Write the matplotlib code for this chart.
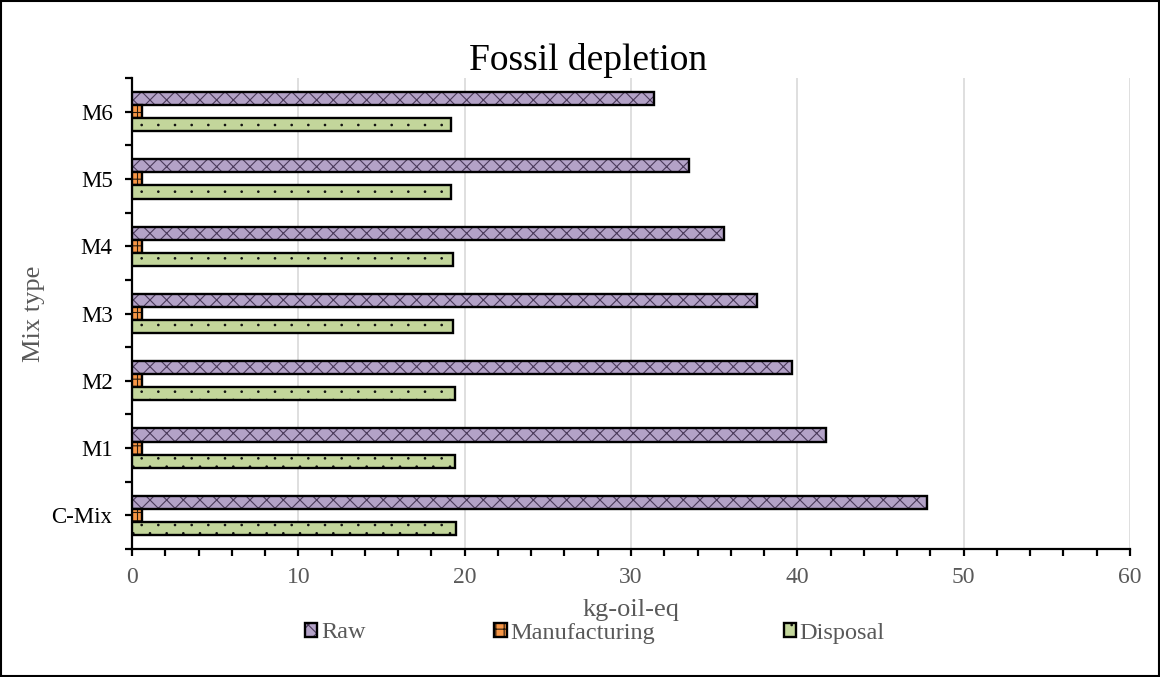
import matplotlib
matplotlib.use("Agg")
import matplotlib.pyplot as plt
import matplotlib.hatch as mhatch
from matplotlib.path import Path
import numpy as np
from matplotlib.patches import Rectangle

plt.rcParams['font.family'] = ['Liberation Serif', 'DejaVu Serif']
plt.rcParams['hatch.linewidth'] = 0.8

categories = ["C-Mix", "M1", "M2", "M3", "M4", "M5", "M6"]
raw = [47.8, 41.7, 39.7, 37.6, 35.6, 33.5, 31.4]
manufacturing = [0.6, 0.6, 0.6, 0.6, 0.6, 0.6, 0.6]
disposal = [19.5, 19.4, 19.4, 19.3, 19.3, 19.15, 19.15]


class StaggeredDots(mhatch.HatchPatternBase):
    """Small dots in staggered rows: wide spacing along a row, tight between rows."""
    size = 0.09

    def __init__(self, hatch, density):
        self.num_rows = hatch.count('.') * density * 2
        circle = Path.unit_circle()
        self.shape_vertices = circle.vertices
        self.shape_codes = circle.codes
        if self.num_rows == 0:
            self.num_vertices = 0
        else:
            ncols = self.num_rows // 2
            n_even = (self.num_rows // 2 + 1) * (ncols + 1)
            n_odd = (self.num_rows // 2) * ncols
            self.num_vertices = (n_even + n_odd) * len(self.shape_vertices)

    def set_vertices_and_codes(self, vertices, codes):
        offset = 1.0 / self.num_rows
        ncols = self.num_rows // 2
        shape = self.shape_vertices * offset * self.size
        parts_v, parts_c = [], []
        for row in range(self.num_rows + 1):
            if row % 2 == 0:
                cols = np.linspace(0, 1, ncols + 1)
            else:
                cols = np.linspace(0.5 / ncols, 1 - 0.5 / ncols, ncols)
            for c in cols:
                parts_v.append(shape + [c, row * offset])
                parts_c.append(self.shape_codes)
        np.concatenate(parts_v, out=vertices)
        np.concatenate(parts_c, out=codes)


mhatch._hatch_types[mhatch._hatch_types.index(mhatch.SmallFilledCircles)] = StaggeredDots

series = [
    ("Raw", raw, "#b3a2c7", "xx", "#4a3a5a"),
    ("Manufacturing", manufacturing, "#f79646", "++", "#2a1a0a"),
    ("Disposal", disposal, "#c3d69b", ".", "#111111"),
]

fig = plt.figure(figsize=(11.6, 6.77), dpi=100)
ax = fig.add_axes([132 / 1160, 1 - 549 / 677, (1130 - 132) / 1160, (549 - 78) / 677])

y = np.arange(len(categories))
h = 0.195
offsets = [h, 0.0, -h]
for (name, vals, color, hatch, hcol), off in zip(series, offsets):
    bars = ax.barh(y + off, vals, height=h, color=color, edgecolor="black",
                   linewidth=1.7, label=name, zorder=3)
    for b in bars:
        b.set_hatch(hatch)
        b._hatch_color = matplotlib.colors.to_rgba(hcol)

ax.set_xlim(0, 60)
ax.set_ylim(-0.5, len(categories) - 0.5)
ax.set_xticks(np.arange(0, 61, 10))
ax.set_xticks(np.arange(0, 61, 2), minor=True)
ax.set_yticks(np.arange(-0.5, len(categories), 1.0))
ax.set_yticklabels([])
ax.set_yticks(y, minor=True)
ax.set_yticklabels(categories, minor=True)
ax.xaxis.grid(True, color="#d9d9d9", linewidth=1.2, zorder=0)
ax.set_axisbelow(True)

for s in ["top", "right"]:
    ax.spines[s].set_visible(False)
for s in ["left", "bottom"]:
    ax.spines[s].set_linewidth(1.6)
    ax.spines[s].set_color("black")

ax.tick_params(axis="x", which="both", direction="out", length=5, width=1.6,
               colors="black", labelcolor="#595959", labelsize=17, pad=8)
ax.tick_params(axis="y", which="both", direction="out", length=5, width=1.6,
               colors="black", labelcolor="black", labelsize=16.5, pad=9)

ax.set_xlabel("kg-oil-eq", fontsize=19, color="#595959", labelpad=8)
ax.set_ylabel("Mix type", fontsize=19, color="#595959", labelpad=5)
ax.set_title("Fossil depletion", fontsize=27, color="black", pad=4,
             x=(588 - 132) / (1130 - 132))

leg = fig.legend(loc="center", bbox_to_anchor=(595 / 1160, 1 - 633 / 677), ncol=3,
                 frameon=False, fontsize=17.5, handlelength=0.5, handleheight=0.5,
                 columnspacing=5.3, handletextpad=0.15)
for t in leg.get_texts():
    t.set_color("#595959")

fig.patches.append(Rectangle((0.001, 0.001), 0.998, 0.997, transform=fig.transFigure,
                             fill=False, edgecolor="black", linewidth=1.5))

fig.savefig("out.png", dpi=100)
